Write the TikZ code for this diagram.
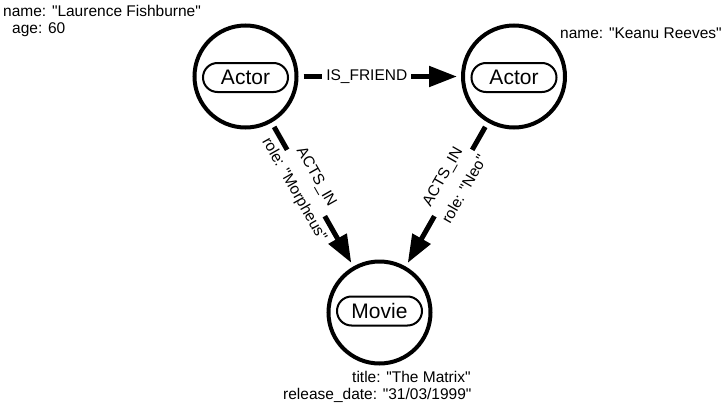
\documentclass[tikz,border=0pt]{standalone}
\usetikzlibrary{arrows.meta}
\font\lblfont="Liberation Sans" at 15.5pt
\font\pillfont="Liberation Sans" at 21pt
\begin{document}
\begin{tikzpicture}[x=1pt,y=-1pt,
  nodecirc/.style={circle, draw, line width=4pt, minimum size=102pt, inner sep=0pt},
  pill/.style={draw, line width=2pt, rounded corners=14.5pt, minimum width=85pt, minimum height=29pt, inner sep=0pt, font=\pillfont},
  prop/.style={anchor=base west, inner sep=0pt, font=\lblfont},
  rel/.style={line width=5pt, -{Triangle[length=28pt,width=20pt]}, shorten <=5pt, shorten >=4pt},
  rellabel/.style={font=\lblfont},
  gap/.style={pos=0.42, sloped, fill=white, minimum width=76pt, minimum height=9pt, inner sep=0pt},
  toplabel/.style={pos=0.42, sloped, above=2pt, inner sep=0pt, rellabel},
  botlabel/.style={pos=0.42, sloped, below=4pt, inner sep=0pt, rellabel}
]
\useasboundingbox (0,0) rectangle (724,407);

\node[nodecirc] (a1) at (245.5,76.5) {};
\node[pill] (p1) at (245.5,77.5) {Actor};
\node[nodecirc] (a2) at (514,76.5) {};
\node[pill] (p2) at (514,77.5) {Actor};
\node[nodecirc] (m) at (379.5,312.5) {};
\node[pill] (pm) at (379.5,311) {Movie};

\draw[rel] (a1) -- node[pos=0.42, fill=white, inner xsep=4pt, inner ysep=1pt, rellabel] (lf) {IS\_FRIEND} (a2);

\draw[rel] (a1) -- node[gap] (g1) {}
  node[toplabel] (l1) {ACTS\_IN}
  node[botlabel] (r1) {role: "Morpheus"} (m);

\draw[rel] (a2) -- node[gap] (g2) {}
  node[toplabel] (l2) {ACTS\_IN}
  node[botlabel] (r2) {role: "Neo"} (m);

\node[prop] (pa) at (3,16) {name: "Laurence Fishburne"};
\node[prop] (pb) at (12,33) {age: 60};
\node[prop] (pc) at (560,38) {name: "Keanu Reeves"};
\node[prop] (pd) at (352,382) {title: "The Matrix"};
\node[prop] (pe) at (283,399) {release\_date: "31/03/1999"};
\end{tikzpicture}
\end{document}
